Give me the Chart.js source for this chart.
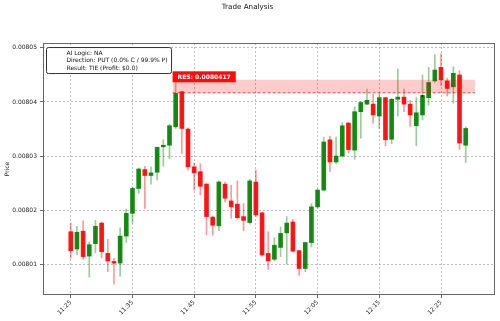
<!DOCTYPE html>
<html>
<head>
<meta charset="utf-8">
<title>Trade Analysis</title>
<script src="https://cdn.jsdelivr.net/npm/chart.js@4.4.1/dist/chart.umd.min.js"></script>
<style>
  html, body { margin: 0; padding: 0; background: #fff; }
  #wrap { width: 500px; height: 321px; }
</style>
</head>
<body>
<div id="wrap"><canvas id="chart" width="500" height="321"></canvas></div>
<script>
// one candle per minute
const times = [
  '11:25', '11:26', '11:27', '11:28', '11:29', '11:30', '11:31', '11:32', '11:33', '11:34',
  '11:35', '11:36', '11:37', '11:38', '11:39', '11:40', '11:41', '11:42', '11:43', '11:44',
  '11:45', '11:46', '11:47', '11:48', '11:49', '11:50', '11:51', '11:52', '11:53', '11:54',
  '11:55', '11:56', '11:57', '11:58', '11:59', '12:00', '12:01', '12:02', '12:03', '12:04',
  '12:05', '12:06', '12:07', '12:08', '12:09', '12:10', '12:11', '12:12', '12:13', '12:14',
  '12:15', '12:16', '12:17', '12:18', '12:19', '12:20', '12:21', '12:22', '12:23', '12:24',
  '12:25', '12:26', '12:27', '12:28', '12:29'
];
const opens = [
  0.0080160, 0.0080128, 0.0080161, 0.0080115, 0.0080138, 0.0080176, 0.0080120, 0.0080105, 0.0080102, 0.0080152,
  0.0080194, 0.0080240, 0.0080275, 0.0080264, 0.0080270, 0.0080317, 0.0080320, 0.0080354, 0.0080419, 0.0080350,
  0.0080280, 0.0080271, 0.0080248, 0.0080187, 0.0080171, 0.0080248, 0.0080217, 0.0080211, 0.0080188, 0.0080177,
  0.0080252, 0.0080195, 0.0080120, 0.0080109, 0.0080131, 0.0080158, 0.0080178, 0.0080125, 0.0080092, 0.0080140,
  0.0080206, 0.0080237, 0.0080330, 0.0080289, 0.0080300, 0.0080361, 0.0080311, 0.0080382, 0.0080396, 0.0080396,
  0.0080374, 0.0080408, 0.0080331, 0.0080405, 0.0080409, 0.0080396, 0.0080356, 0.0080376, 0.0080408, 0.0080439,
  0.0080464, 0.0080439, 0.0080428, 0.0080450, 0.0080320
];
const highs = [
  0.0080176, 0.0080170, 0.0080180, 0.0080141, 0.0080181, 0.0080178, 0.0080146, 0.0080111, 0.0080167, 0.0080202,
  0.0080243, 0.0080278, 0.0080281, 0.0080280, 0.0080317, 0.0080330, 0.0080359, 0.0080441, 0.0080420, 0.0080352,
  0.0080287, 0.0080286, 0.0080250, 0.0080189, 0.0080254, 0.0080252, 0.0080246, 0.0080254, 0.0080212, 0.0080257,
  0.0080274, 0.0080196, 0.0080160, 0.0080149, 0.0080169, 0.0080188, 0.0080183, 0.0080126, 0.0080141, 0.0080212,
  0.0080239, 0.0080335, 0.0080337, 0.0080335, 0.0080362, 0.0080362, 0.0080391, 0.0080401, 0.0080424, 0.0080414,
  0.0080417, 0.0080409, 0.0080407, 0.0080461, 0.0080424, 0.0080403, 0.0080408, 0.0080450, 0.0080464, 0.0080487,
  0.0080489, 0.0080444, 0.0080465, 0.0080458, 0.0080354
];
const lows = [
  0.0080111, 0.0080117, 0.0080109, 0.0080076, 0.0080121, 0.0080112, 0.0080086, 0.0080063, 0.0080078, 0.0080140,
  0.0080176, 0.0080231, 0.0080203, 0.0080248, 0.0080256, 0.0080281, 0.0080295, 0.0080351, 0.0080305, 0.0080274,
  0.0080237, 0.0080228, 0.0080154, 0.0080154, 0.0080162, 0.0080215, 0.0080185, 0.0080183, 0.0080162, 0.0080174,
  0.0080189, 0.0080115, 0.0080090, 0.0080106, 0.0080114, 0.0080100, 0.0080123, 0.0080079, 0.0080086, 0.0080132,
  0.0080204, 0.0080236, 0.0080271, 0.0080286, 0.0080298, 0.0080306, 0.0080294, 0.0080333, 0.0080395, 0.0080361,
  0.0080351, 0.0080319, 0.0080323, 0.0080374, 0.0080382, 0.0080355, 0.0080319, 0.0080367, 0.0080394, 0.0080436,
  0.0080430, 0.0080411, 0.0080398, 0.0080312, 0.0080288
];
const closes = [
  0.0080125, 0.0080159, 0.0080114, 0.0080136, 0.0080170, 0.0080123, 0.0080106, 0.0080102, 0.0080152, 0.0080194,
  0.0080240, 0.0080276, 0.0080264, 0.0080269, 0.0080316, 0.0080320, 0.0080356, 0.0080416, 0.0080351, 0.0080280,
  0.0080269, 0.0080244, 0.0080188, 0.0080172, 0.0080252, 0.0080222, 0.0080206, 0.0080186, 0.0080181, 0.0080254,
  0.0080191, 0.0080117, 0.0080106, 0.0080135, 0.0080157, 0.0080176, 0.0080124, 0.0080092, 0.0080140, 0.0080206,
  0.0080237, 0.0080326, 0.0080289, 0.0080300, 0.0080356, 0.0080312, 0.0080382, 0.0080399, 0.0080403, 0.0080376,
  0.0080408, 0.0080330, 0.0080405, 0.0080409, 0.0080396, 0.0080376, 0.0080380, 0.0080412, 0.0080436, 0.0080459,
  0.0080441, 0.0080425, 0.0080453, 0.0080324, 0.0080351
];

// resistance zone
const resLevel = 0.0080417;
const zoneTop = 0.0080441;
const zoneFrom = '11:41:30';
const zoneTo = '12:30:30';

// entry marker
const entryTime = '12:22';
const entryPrice = 0.0080411;

const xTickLabels = ['11:25', '11:35', '11:45', '11:55', '12:05', '12:15', '12:25'];
const yTicks = [0.00801, 0.00802, 0.00803, 0.00804, 0.00805];
const xRange = ['11:20:30', '12:33:45'];
const yRange = [0.0080043, 0.0080509];

const infoLines = ['AI Logic: NA', 'Direction: PUT (0.0% C / 99.9% P)', 'Result: TIE (Profit: $0.0)'];

const UP = 'rgba(0,128,0,0.9)', DOWN = 'rgba(255,0,0,0.9)';
const UP_WICK = 'rgba(0,128,0,0.4)', DOWN_WICK = 'rgba(255,0,0,0.4)';
const FONT = 'DejaVu Sans';

// "hh:mm[:ss]" -> minutes
function toMin(t) {
  const [h, m, s] = t.split(':').map(Number);
  return h * 60 + m + (s || 0) / 60;
}
function fmtMin(v) {
  const h = Math.floor(v / 60), m = Math.round(v - h * 60);
  return h + ':' + String(m).padStart(2, '0');
}
const isUp = i => closes[i] >= opens[i];

const wickData = times.map((t, i) => ({ x: toMin(t), y: [lows[i], highs[i]] }));
const bodyData = times.map((t, i) => ({ x: toMin(t), y: [opens[i], closes[i]] }));

Chart.defaults.font.family = FONT;
Chart.defaults.color = '#222';

// frame, RES label and info box on top of the candles
const overlay = {
  id: 'overlay',
  afterDatasetsDraw(chart) {
    const { ctx, chartArea: a, scales: { x, y } } = chart;
    ctx.save();

    // axes frame
    ctx.strokeStyle = '#666';
    ctx.lineWidth = 1;
    ctx.strokeRect(a.left + 0.5, a.top + 0.5, a.right - a.left - 1, a.bottom - a.top - 1);

    // RES label
    const label = 'RES: ' + resLevel.toFixed(7);
    ctx.font = 'bold 6px "' + FONT + '"';
    const lw = ctx.measureText(label).width + 10;
    const lx = x.getPixelForValue(toMin(zoneFrom));
    const ly = y.getPixelForValue(zoneTop) - 3;
    ctx.fillStyle = 'rgba(255,0,0,0.95)';
    ctx.fillRect(lx, ly - 5.5, lw, 11);
    ctx.fillStyle = '#fff';
    ctx.textBaseline = 'middle';
    ctx.textAlign = 'left';
    ctx.fillText(label, lx + 5, ly + 0.5);

    // info box
    ctx.font = '6px "' + FONT + '"';
    const tw = Math.max(...infoLines.map(l => ctx.measureText(l).width));
    const bx = a.left + 3.5, by = a.top + 4.5, bw = tw + 24, bh = 26;
    ctx.beginPath();
    ctx.roundRect(bx, by, bw, bh, 2);
    ctx.fillStyle = 'rgba(255,255,255,0.9)';
    ctx.fill();
    ctx.strokeStyle = '#333';
    ctx.stroke();
    ctx.fillStyle = '#111';
    infoLines.forEach((l, i) => ctx.fillText(l, bx + 20, by + 6 + i * 7.3));
    ctx.restore();
  }
};

new Chart(document.getElementById('chart'), {
  type: 'bar',
  data: {
    datasets: [
      {
        label: 'wicks',
        data: wickData,
        backgroundColor: c => isUp(c.dataIndex) ? UP_WICK : DOWN_WICK,
        barThickness: 1,
        grouped: false,
        borderWidth: 0,
        order: 5
      },
      {
        label: 'bodies',
        data: bodyData,
        backgroundColor: c => isUp(c.dataIndex) ? UP : DOWN,
        barThickness: 4,
        grouped: false,
        borderWidth: 0,
        order: 4
      },
      {
        type: 'line',
        label: 'zone',
        data: [{ x: toMin(zoneFrom), y: zoneTop }, { x: toMin(zoneTo), y: zoneTop }],
        fill: { value: resLevel },
        backgroundColor: 'rgba(255,0,0,0.2)',
        borderWidth: 0,
        pointRadius: 0,
        order: 3
      },
      {
        type: 'line',
        label: 'resistance',
        data: [{ x: toMin(zoneFrom), y: resLevel }, { x: toMin(zoneTo), y: resLevel }],
        borderColor: 'rgba(255,0,0,0.7)',
        borderWidth: 1,
        borderDash: [3, 2],
        pointRadius: 0,
        fill: false,
        order: 2
      },
      {
        type: 'scatter',
        label: 'entry',
        data: [{ x: toMin(entryTime), y: entryPrice }],
        pointStyle: 'rect',
        pointRadius: 1.2,
        backgroundColor: '#111',
        borderWidth: 0,
        order: 1
      }
    ]
  },
  options: {
    responsive: false,
    animation: false,
    devicePixelRatio: 1,
    layout: { padding: { left: 0, right: 5, top: 0, bottom: 0 } },
    plugins: {
      legend: { display: false },
      tooltip: { enabled: false },
      title: {
        display: true,
        text: 'Trade Analysis',
        color: '#111',
        font: { size: 7.2, weight: 'normal' },
        padding: { top: 3, bottom: 31.4 }
      }
    },
    scales: {
      x: {
        type: 'linear',
        offset: false,
        min: toMin(xRange[0]),
        max: toMin(xRange[1]),
        afterBuildTicks: s => { s.ticks = xTickLabels.map(t => ({ value: toMin(t) })); },
        afterFit: s => { s.height = 26; },
        ticks: {
          autoSkip: false,
          minRotation: 45,
          maxRotation: 45,
          padding: 1,
          font: { size: 6 },
          callback: v => fmtMin(v)
        },
        grid: {
          offset: false,
          color: 'rgba(150,150,150,0.8)',
          lineWidth: 0.8,
          tickLength: 3,
          tickColor: '#666',
          tickWidth: 1
        },
        border: { display: false, dash: [2, 2] }
      },
      y: {
        min: yRange[0],
        max: yRange[1],
        beginAtZero: false,
        afterBuildTicks: s => { s.ticks = yTicks.map(v => ({ value: v })); },
        afterFit: s => { s.width = 43; },
        ticks: {
          padding: 3,
          font: { size: 6 },
          callback: v => v.toFixed(5)
        },
        grid: {
          color: 'rgba(150,150,150,0.8)',
          lineWidth: 0.8,
          tickLength: 3,
          tickColor: '#666',
          tickWidth: 1
        },
        border: { display: false, dash: [2, 2] },
        title: {
          display: true,
          text: 'Price',
          font: { size: 6 },
          padding: { top: 4, bottom: 0 }
        }
      }
    }
  },
  plugins: [overlay]
});
</script>
</body>
</html>
